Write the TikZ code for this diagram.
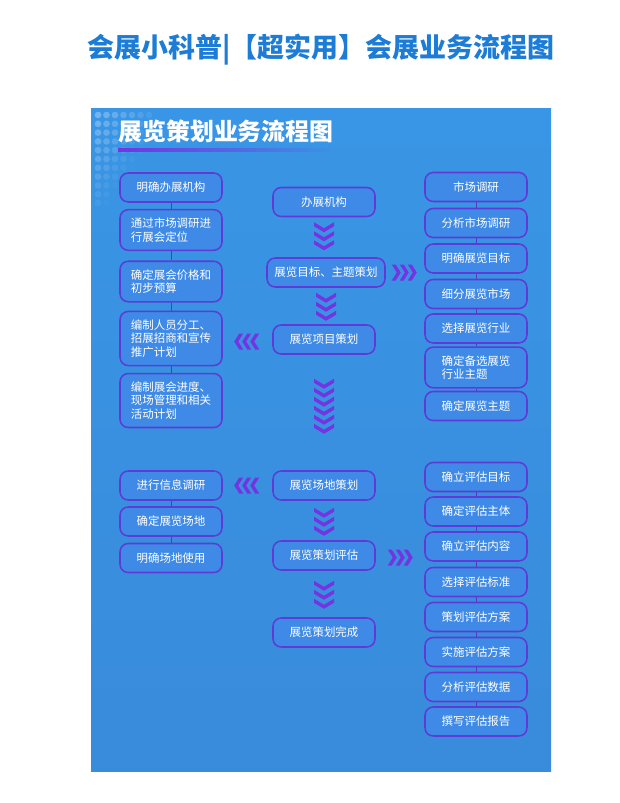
\documentclass[tikz,border=0pt]{standalone}
\usepackage{fontspec}
\newfontfamily\cjk{Noto Sans CJK SC}
\usetikzlibrary{calc}

\definecolor{titleblue}{RGB}{28,124,214}
\definecolor{panelblue}{RGB}{59,145,228}
\definecolor{boxfill}{RGB}{62,138,230}
\definecolor{boxline}{RGB}{96,58,214}
\definecolor{chevpurple}{RGB}{116,52,226}
\definecolor{linkcol}{RGB}{80,60,190}

\tikzset{
  stepbox/.style={draw=boxline, line width=1.3pt, rounded corners=7pt, fill=boxfill,
    text=white, minimum width=3.06cm, minimum height=0.87cm, inner xsep=4pt,
    inner ysep=7pt, align=left, font=\cjk\fontsize{9.8}{11.5}\selectfont},
  link/.style={draw=linkcol, line width=0.7pt},
  chevd/.pic={\fill[chevpurple] (-10,0) -- (0,6) -- (10,0) -- (10,4) -- (0,10) -- (-10,4) -- cycle;},
  chevr/.pic={\fill[chevpurple] (0,-8) -- (4,-8) -- (9,0) -- (4,8) -- (0,8) -- (5,0) -- cycle;},
  chevl/.pic={\fill[chevpurple] (9,-8) -- (5,-8) -- (0,0) -- (5,8) -- (9,8) -- (4,0) -- cycle;}
}

\begin{document}
\begin{tikzpicture}[x=0.03cm, y=-0.03cm]

    \useasboundingbox (0,0) rectangle (620,803);
    \fill[white] (0,0) rectangle (620,803);

    % title
    \node[font=\cjk\bfseries\fontsize{23}{26}\selectfont, text=titleblue] (title) at (321,50)
        {会展小科普|【超实用】会展业务流程图};

    % panel
    \shade[top color=panelblue!96!cyan, bottom color=panelblue!96!black] (91,108) rectangle (551,771);
    \foreach \i in {0,...,6}
      \foreach \j in {0,...,10} {
        \pgfmathsetmacro\op{max(0,0.3-0.036*\i-0.024*\j)}
        \fill[white, opacity=\op] ({98+8.5*\i},{115+8.8*\j}) circle[radius=0.1cm];
      }
    \shade[left color=chevpurple, right color=panelblue] (118,148.5) rectangle (330,151.5);
    \node[font=\cjk\bfseries\fontsize{20.4}{22}\selectfont, text=white] (head) at (226,131)
        {展览策划业务流程图};

    % left column, top
    \node[stepbox] (l1) at (171,187.5) {明确办展机构};
    \node[stepbox] (l2) at (171,230) {通过市场调研进\\行展会定位};
    \node[stepbox] (l3) at (171,281.5) {确定展会价格和\\初步预算};
    \node[stepbox] (l4) at (171,338.5) {编制人员分工、\\招展招商和宣传\\推广计划};
    \node[stepbox] (l5) at (171,400.5) {编制展会进度、\\现场管理和相关\\活动计划};

    % centre column
    \node[stepbox] (c1) at (324,202) {办展机构};
    \node[stepbox, minimum width=3.54cm] (c2) at (326,272.5) {展览目标、主题策划};
    \node[stepbox] (c3) at (324,339.5) {展览项目策划};
    \node[stepbox] (d1) at (324,485.5) {展览场地策划};
    \node[stepbox] (d2) at (324,555.5) {展览策划评估};
    \node[stepbox] (d3) at (324,632.5) {展览策划完成};

    % right column, top
    \node[stepbox] (r1) at (476,187) {市场调研};
    \node[stepbox] (r2) at (476,223) {分析市场调研};
    \node[stepbox] (r3) at (476,258.5) {明确展览目标};
    \node[stepbox] (r4) at (476,294) {细分展览市场};
    \node[stepbox] (r5) at (476,328.5) {选择展览行业};
    \node[stepbox] (r6) at (476,367.5) {确定备选展览\\行业主题};
    \node[stepbox] (r7) at (476,406) {确定展览主题};

    % left column, bottom
    \node[stepbox] (b1) at (171,485.5) {进行信息调研};
    \node[stepbox] (b2) at (171,521.5) {确定展览场地};
    \node[stepbox] (b3) at (171,558) {明确场地使用};

    % right column, bottom
    \node[stepbox] (e1) at (476,477) {确立评估目标};
    \node[stepbox] (e2) at (476,511.5) {确定评估主体};
    \node[stepbox] (e3) at (476,546.5) {确立评估内容};
    \node[stepbox] (e4) at (476,582) {选择评估标准};
    \node[stepbox] (e5) at (476,617) {策划评估方案};
    \node[stepbox] (e6) at (476,652) {实施评估方案};
    \node[stepbox] (e7) at (476,687) {分析评估数据};
    \node[stepbox] (e8) at (476,721.5) {撰写评估报告};

    % links inside the side columns
    \foreach \a/\b in {l1/l2, l2/l3, l3/l4, l4/l5, r1/r2, r2/r3, r3/r4, r4/r5, r5/r6, r6/r7,
                       b1/b2, b2/b3, e1/e2, e2/e3, e3/e4, e4/e5, e5/e6, e6/e7, e7/e8}
      \draw[link] (\a) -- (\b);

    % chevrons down the centre
    \foreach \k in {0,1,2} \pic at ($(c1.south)+(0,{5+9*\k})$) {chevd};
    \foreach \k in {0,1,2} \pic at ($(c2.south)+(0,{5+9*\k})$) {chevd};
    \foreach \k in {0,...,5} \pic at ($(c3.south)+(0,{24+9*\k})$) {chevd};
    \foreach \k in {0,1,2} \pic at ($(d1.south)+(0,{7+9*\k})$) {chevd};
    \foreach \k in {0,1,2} \pic at ($(d2.south)+(0,{10+9*\k})$) {chevd};

    % chevrons to the sides
    \foreach \k in {0,1,2} \pic at ($(c2.east)+({6+8*\k},0)$) {chevr};
    \foreach \k in {0,1,2} \pic at ($(d2.east)+({12+8*\k},2)$) {chevr};
    \foreach \k in {0,1,2} \pic at ($(c3.west)+({-38+8*\k},2)$) {chevl};
    \foreach \k in {0,1,2} \pic at ($(d1.west)+({-38+8*\k},0)$) {chevl};

\end{tikzpicture}
\end{document}
